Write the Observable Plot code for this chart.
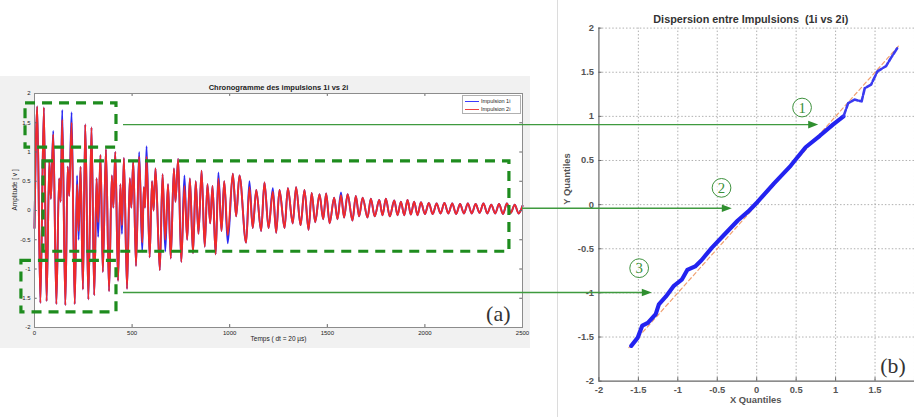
<!DOCTYPE html>
<html><head><meta charset="utf-8">
<script src="https://cdn.jsdelivr.net/npm/d3@7"></script>
<script src="https://cdn.jsdelivr.net/npm/@observablehq/plot@0.6"></script>
<style>
html,body{margin:0;padding:0;background:#fff;overflow:hidden}
#wrap{position:relative;width:914px;height:417px;overflow:hidden;background:#fff;font-family:"Liberation Sans",Arial,sans-serif}
.abs{position:absolute}
#legend{left:462px;top:95px;width:59px;height:19px;border:1px solid #b0b0b0;background:#fff;font-size:5.5px;line-height:8px;padding-top:1px;box-sizing:border-box;color:#222;white-space:nowrap}
#legend span{display:inline-block;width:14px;height:0;vertical-align:middle;margin:0 2px 0 2px}
</style></head><body>
<div id="wrap">
<div id="A" class="abs" style="left:0;top:76px"></div>
<div class="abs" style="left:557px;top:0;width:1px;height:417px;background:#dcdcdc"></div>
<div id="B" class="abs" style="left:557px;top:0"></div>
<div id="legend" class="abs"></div>
<svg id="ov" class="abs" style="left:0;top:0" width="914" height="417"></svg>
</div>
<script>
// ---------- Panel (a): chronogram ----------
const titleA = "Chronogramme des impulsions 1i vs 2i";
const xLabelA = "Temps ( dt = 20 µs)";
const yLabelA = "Amplitude [ v ]";
const seriesNames = ["Impulsion 1i", "Impulsion 2i"];
const xTicksA = [0, 500, 1000, 1500, 2000, 2500];
const yTicksA = [-2, -1.5, -1, -0.5, 0, 0.5, 1, 1.5, 2];

const sampleT = [
  0,14,30,48,62,76,84,96,112,126,
  134,142,158,170,178,190,206,218,226,236,
  248,260,276,292,306,318,326,338,350,366,
  382,396,404,414,428,440,448,458,474,488,
  496,506,520,536,552,560,566,574,590,602,
  610,620,642,656,670,684,698,714,722,736,
  752,768,782,796,812,826,840,856,872,886,
  900,912,928,942,958,972,990,1016,1033,1050,
  1084,1101,1118,1136,1161,1178,1199,1221,1238,1255,
  1281,1298,1323,1340,1363,1383,1404,1420,1438,1460,
  1479,1494,1512,1535,1552,1570,1586,1604,1629,1646,
  1663,1681,1706,1723,1743,1766,1783,1800,1820,1843,
  1860,1877,1894,1911,1928,1945,1962,1980,2000,2020,
  2040,2060,2080,2100,2120,2140,2160,2180,2200,2220,
  2240,2260,2280,2300,2320,2340,2360,2380,2400,2420,
  2440,2460,2480,2500
];
// Impulsion 2i (red)
const impulsion2 = [
  -0.30,1.78,-1.58,1.76,-1.55,0.85,0.20,1.30,-1.60,0.55,
  0.15,1.55,-1.62,0.75,0.25,1.50,-1.60,0.45,-0.35,0.75,
  -1.35,1.47,-1.52,1.42,-1.45,0.55,-0.20,0.95,-1.05,1.05,
  -1.38,0.60,0.05,1.00,-1.20,0.45,-0.25,0.90,-1.34,0.55,
  0.05,0.85,-0.95,0.92,-0.55,0.40,0.05,0.92,-0.80,0.50,
  0.00,0.72,-1.02,0.62,-0.50,0.45,-0.82,0.72,0.15,0.88,
  -0.88,0.42,-0.50,0.55,-0.73,0.50,-0.40,0.68,-0.62,0.45,
  -0.22,0.42,-0.75,0.55,-0.35,0.50,-0.42,0.63,-0.10,0.60,
  -0.55,0.40,-0.30,0.35,-0.35,0.48,-0.30,0.32,-0.38,0.35,
  -0.30,0.38,-0.22,0.40,-0.25,0.35,-0.33,0.30,-0.20,0.28,
  -0.15,0.29,-0.22,0.22,-0.15,0.26,-0.12,0.28,-0.17,0.25,
  -0.10,0.22,-0.12,0.20,-0.10,0.18,-0.08,0.20,-0.10,0.17,
  -0.08,0.15,-0.08,0.18,-0.07,0.15,-0.08,0.14,-0.06,0.13,
  -0.06,0.12,-0.05,0.13,-0.05,0.12,-0.06,0.11,-0.05,0.12,
  -0.05,0.11,-0.04,0.12,-0.05,0.10,-0.05,0.11,-0.06,0.12,
  -0.04,0.10,-0.05,0.08
];
// Impulsion 1i (blue)
const impulsion1 = [
  -0.30,1.78,-1.58,1.76,-1.55,0.85,0.20,1.36,-1.60,0.55,
  0.15,1.72,-1.62,0.75,0.25,1.68,-1.60,0.60,-0.50,0.75,
  -1.35,1.47,-1.52,1.42,-1.45,0.55,-0.45,0.95,-1.05,1.05,
  -1.38,0.60,0.05,1.00,-1.20,0.45,-0.40,0.90,-1.34,0.55,
  0.05,0.85,-0.95,1.00,-0.70,0.40,0.05,1.10,-0.80,0.50,
  0.00,0.72,-1.02,0.62,-0.70,0.45,-0.82,0.72,0.15,0.88,
  -0.88,0.60,-0.50,0.55,-0.73,0.50,-0.40,0.68,-0.62,0.45,
  -0.22,0.42,-0.75,0.65,-0.35,0.50,-0.56,0.63,-0.10,0.60,
  -0.55,0.50,-0.30,0.35,-0.35,0.48,-0.30,0.38,-0.38,0.35,
  -0.30,0.38,-0.22,0.40,-0.25,0.35,-0.33,0.30,-0.20,0.28,
  -0.15,0.29,-0.22,0.22,-0.15,0.31,-0.12,0.28,-0.17,0.25,
  -0.10,0.22,-0.12,0.20,-0.10,0.18,-0.08,0.20,-0.10,0.17,
  -0.08,0.15,-0.08,0.18,-0.07,0.15,-0.08,0.14,-0.06,0.13,
  -0.06,0.12,-0.05,0.13,-0.05,0.12,-0.06,0.11,-0.05,0.12,
  -0.05,0.11,-0.04,0.12,-0.05,0.10,-0.05,0.11,-0.06,0.12,
  -0.04,0.10,-0.05,0.08
];

// highlighted zones (green dashed boxes) in panel (a) data units
const zoneStart = [-46, 46, -67];
const zoneEnd = [420, 2433, 420];
const zoneTop = [1.83, 0.84, -0.86];
const zoneBottom = [1.075, -0.705, -1.74];

// ---------- Panel (b): QQ plot ----------
const titleB = "Dispersion entre Impulsions  (1i vs 2i)";
const qTicks = [-2, -1.5, -1, -0.5, 0, 0.5, 1, 1.5, 2];
const xQuantiles = [-1.59,-1.51,-1.45,-1.38,-1.28,-1.24,-1.15,-1.05,-0.95,-0.88,-0.78,-0.70,-0.57,-0.40,-0.24,-0.11,0.01,0.22,0.43,0.62,0.80,0.97,1.10];
const yQuantiles = [-1.60,-1.51,-1.37,-1.34,-1.24,-1.13,-1.04,-0.92,-0.85,-0.74,-0.70,-0.63,-0.49,-0.33,-0.18,-0.08,0.03,0.24,0.44,0.65,0.78,0.91,1.00];
const xQuantilesTail = [1.10,1.16,1.24,1.33,1.37,1.45,1.53,1.64,1.70,1.78];
const yQuantilesTail = [1.00,1.15,1.19,1.17,1.32,1.36,1.51,1.57,1.66,1.77];
const refLine = [-1.62, 1.82];

// annotations: arrows from (a) to (b), circled markers
const arrowFromT = [456, 2500, 456];
const arrowAmp = [1.46, 0.03, -1.41];
const arrowToQ = [0.74, -0.34, -1.34];
const markerLabel = ["1", "2", "3"];
const markerQx = [0.575, -0.446, -1.49];
const markerQy = [1.10, 0.19, -0.72];

const green = "#1e8c1e";
const arrowGreen = "#3f9a3f";
const fmt = d => String(d);

const rowsA = sampleT.map((t, i) => ({t, b: impulsion1[i], r: impulsion2[i]}));
const zones = zoneStart.map((s, i) => ({s0: s, s1: zoneEnd[i], a0: zoneTop[i], a1: zoneBottom[i]}));

const chartA = Plot.plot({
  width: 530, height: 272,
  marginLeft: 34, marginRight: 8, marginTop: 17, marginBottom: 21,
  style: {background: "#f1f1f1", fontFamily: "Liberation Sans, Arial, sans-serif", overflow: "visible"},
  x: {domain: [0, 2500]},
  y: {domain: [-2, 2]},
  marks: [
    Plot.frame({fill: "white", stroke: "none"}),
    Plot.line(rowsA, {x: "t", y: "b", stroke: "#2b2bf2", strokeWidth: 1.9, curve: "monotone-x"}),
    Plot.line(rowsA, {x: "t", y: "r", stroke: "#f02a2a", strokeWidth: 1.9, curve: "monotone-x"}),
    Plot.ruleX(xTicksA, {y1: -2, y2: -1.95, stroke: "#666"}),
    Plot.ruleX(xTicksA, {y1: 2, y2: 1.95, stroke: "#666"}),
    Plot.ruleY(yTicksA, {x1: 0, x2: 14, stroke: "#666"}),
    Plot.ruleY(yTicksA, {x1: 2486, x2: 2500, stroke: "#666"}),
    Plot.frame({stroke: "#8c8c8c"}),
    Plot.axisX(xTicksA, {tickSize: 0, tickPadding: 3, fontSize: 6, fill: "#222", tickFormat: fmt, label: null}),
    Plot.axisY(yTicksA, {tickSize: 0, tickPadding: 4, fontSize: 6, fill: "#222", tickFormat: fmt, label: null}),
    Plot.text([titleA], {frameAnchor: "top", dy: -9, fontSize: 7.5, fontWeight: "bold", fill: "#222"}),
    Plot.text([xLabelA], {frameAnchor: "bottom", dy: 13, fontSize: 6.5, fill: "#222"}),
    Plot.text([yLabelA], {frameAnchor: "left", dx: -20, rotate: -90, fontSize: 6.5, fill: "#222"}),
    Plot.rect(zones, {x1: "s0", x2: "s1", y1: "a0", y2: "a1", fill: "none", stroke: green, strokeWidth: 3.2, strokeDasharray: "10,7"}),
    Plot.text(["(a)"], {frameAnchor: "bottom-right", dx: -12, dy: -7, fontSize: 22, fontFamily: "Liberation Serif, serif", fill: "#333"})
  ]
});
document.getElementById("A").appendChild(chartA);

const qq = xQuantiles.map((x, i) => ({x, y: yQuantiles[i]}));
const qqTail = xQuantilesTail.map((x, i) => ({x, y: yQuantilesTail[i]}));
const markers = markerLabel.map((l, i) => ({l, x: markerQx[i], y: markerQy[i]}));
const gridTicks = qTicks.filter(d => d > -2);
const xLabelTicksB = qTicks.filter(d => d < 2); // the "2" label falls outside the picture

const chartB = Plot.plot({
  width: 362, height: 417,
  marginLeft: 42, marginRight: 0, marginTop: 28, marginBottom: 31,
  style: {background: "transparent", fontFamily: "Liberation Sans, Arial, sans-serif", overflow: "visible"},
  x: {domain: [-2, 2]},
  y: {domain: [-2, 2]},
  marks: [
    Plot.ruleX(gridTicks, {y1: -2, y2: 2, stroke: "#9a9a9a", strokeDasharray: "1.5,2", strokeWidth: 0.8}),
    Plot.ruleY(gridTicks, {x1: -2, x2: 2, stroke: "#9a9a9a", strokeDasharray: "1.5,2", strokeWidth: 0.8}),
    Plot.ruleX([-2], {y1: -2, y2: 2, stroke: "#666", strokeWidth: 1.2}),
    Plot.ruleY([-2], {x1: -2, x2: 2, stroke: "#666", strokeWidth: 1.2}),
    Plot.ruleX(qTicks, {y1: -2, y2: -1.96, stroke: "#666"}),
    Plot.ruleY(qTicks, {x1: -2, x2: -1.96, stroke: "#666"}),
    Plot.line(refLine.map(v => ({v})), {x: "v", y: "v", stroke: "#f0a070", strokeWidth: 1.2, strokeDasharray: "4,3"}),
    Plot.line(qq, {x: "x", y: "y", stroke: "#2323f0", strokeWidth: 4.2, strokeLinejoin: "round", strokeLinecap: "round"}),
    Plot.line(qqTail, {x: "x", y: "y", stroke: "#3a3af0", strokeWidth: 2.6, strokeLinejoin: "round", strokeLinecap: "round", strokeDasharray: "7,2"}),
    Plot.axisX(xLabelTicksB, {tickSize: 0, tickPadding: 5, fontSize: 9.5, fontWeight: "bold", fill: "#555", tickFormat: fmt, label: null}),
    Plot.axisY(qTicks, {tickSize: 0, tickPadding: 5, fontSize: 9.5, fontWeight: "bold", fill: "#555", tickFormat: fmt, label: null}),
    Plot.text([titleB], {frameAnchor: "top", dx: -6, dy: -13, fontSize: 11, fontWeight: "bold", fill: "#333"}),
    Plot.text(["X Quantiles"], {frameAnchor: "bottom", dx: -1, dy: 22, fontSize: 9.5, fontWeight: "bold", fill: "#555"}),
    Plot.text(["Y Quantiles"], {frameAnchor: "left", dx: -32, rotate: -90, fontSize: 9.5, fontWeight: "bold", fill: "#555"}),
    Plot.dot(markers, {x: "x", y: "y", r: 9.5, stroke: "#3a8f3a", strokeWidth: 1, fill: "white", fillOpacity: 0.6}),
    Plot.text(markers, {x: "x", y: "y", text: "l", fontSize: 15, fontFamily: "Liberation Serif, serif", fill: "#3a8f3a", dy: 0.5}),
    Plot.text(["(b)"], {frameAnchor: "bottom-right", dx: -9, dy: -8, fontSize: 22, fontFamily: "Liberation Serif, serif", fill: "#333"})
  ]
});
document.getElementById("B").appendChild(chartB);

// legend (panel a)
const legendColors = ["#3b3bff", "#f04040"];
document.getElementById("legend").innerHTML = seriesNames.map((n, i) =>
  `<div><span style="border-top:1px solid ${legendColors[i]}"></span>${n}</div>`).join("");

// arrows across panels, positioned through the charts' scales
const offA = {x: 0, y: 76}, offB = {x: 557, y: 0};
const sxA = chartA.scale("x"), syA = chartA.scale("y"), sxB = chartB.scale("x");
const ov = d3.select("#ov");
arrowFromT.forEach((t, i) => {
  const x0 = offA.x + sxA.apply(t);
  const y = offA.y + syA.apply(arrowAmp[i]);
  const x1 = offB.x + sxB.apply(arrowToQ[i]);
  ov.append("line").attr("x1", x0).attr("x2", x1 - 7).attr("y1", y).attr("y2", y)
    .attr("stroke", arrowGreen).attr("stroke-width", 1.4);
  ov.append("path").attr("d", `M${x1},${y}L${x1 - 10},${y - 3.8}L${x1 - 10},${y + 3.8}Z`).attr("fill", "#2f8f2f");
});
</script>
</body></html>
